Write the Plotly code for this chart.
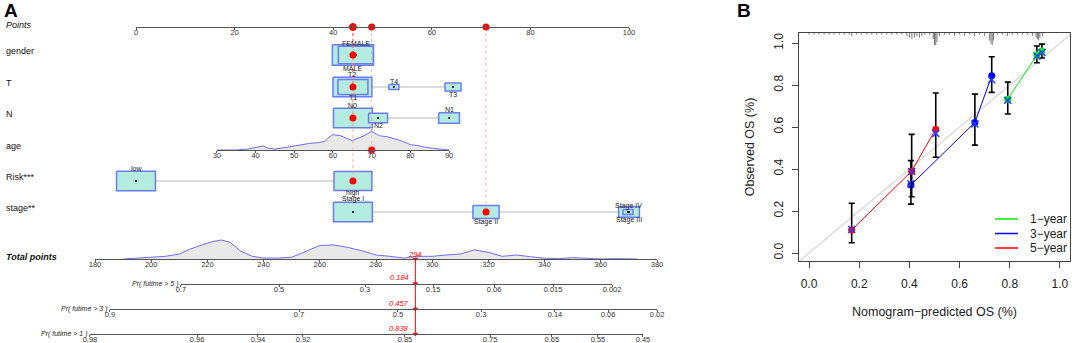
import plotly.graph_objects as go

# ======================= DATA =======================
# ---- Panel A : nomogram ----
points_ticks = [0, 20, 40, 60, 80, 100]

gender_levels = ["MALE", "FEMALE"]
gender_pts = [44.0, 44.6]
gender_share = [0.47, 0.34]

t_levels = ["T2", "T1", "T4", "T3"]
t_pts = [43.9, 44.0, 52.3, 64.3]
t_share = [0.42, 0.25, 0.028, 0.071]

n_levels = ["N0", "N2", "N1"]
n_pts = [44.0, 49.1, 63.5]
n_share = [0.42, 0.10, 0.12]

risk_levels = ["low", "high"]
risk_pts = [0.0, 44.0]
risk_share = [0.42, 0.40]

stage_levels = ["Stage I", "Stage II", "Stage III", "Stage IV"]
stage_pts = [44.0, 71.0, 100.0, 99.8]
stage_share = [0.42, 0.19, 0.12, 0.028]

age_ticks = [30, 40, 50, 60, 70, 80, 90]
age_pts_at_ends = [16.4, 63.5]          # points given to age 30 and age 90
age_grid = [30, 35, 38, 40, 42, 43, 45, 48, 50, 52, 54, 56, 58, 59, 60, 62, 64, 65,
            66, 68, 70, 71, 72, 74, 76, 78, 80, 82, 84, 86, 88, 90]
age_density = [0, 0, 0.05, 0.14, 0.21, 0.11, 0.05, 0.14, 0.21, 0.32, 0.35, 0.38, 0.46,
               0.67, 0.81, 0.75, 0.58, 0.49, 0.58, 0.75, 0.98, 0.88, 0.75, 0.70, 0.58,
               0.46, 0.28, 0.23, 0.14, 0.07, 0.04, 0]

total_ticks = [180, 200, 220, 240, 260, 280, 300, 320, 340, 360, 380]
total_grid = [190, 195, 200, 205, 210, 214, 218, 222, 225, 228, 232, 236, 240, 245, 250,
              255, 260, 265, 270, 275, 280, 285, 290, 294, 300, 305, 310, 315, 320, 325,
              330, 335, 340, 345, 350, 355, 360, 365, 370, 373]
total_density = [0, 0.04, 0.09, 0.14, 0.26, 0.53, 0.74, 0.92, 1.0, 0.88, 0.40, 0.14, 0.05,
                 0.05, 0.09, 0.40, 0.71, 0.74, 0.61, 0.43, 0.21, 0.14, 0.05, 0.14, 0.14,
                 0.21, 0.26, 0.48, 0.35, 0.14, 0.21, 0.12, 0.04, 0.02, 0.07, 0.04, 0,
                 0.02, 0.02, 0]

pr5_probs = [0.7, 0.5, 0.3, 0.15, 0.06, 0.015, 0.002]
pr5_total = [210.6, 245.5, 276.1, 300.3, 322.0, 343.0, 364.0]
pr3_probs = [0.9, 0.7, 0.5, 0.3, 0.14, 0.06, 0.02]
pr3_total = [185.3, 252.6, 287.8, 317.4, 343.7, 362.6, 380.0]
pr1_probs = [0.98, 0.96, 0.94, 0.92, 0.85, 0.75, 0.65, 0.55, 0.45]
pr1_total = [178.2, 216.3, 238.0, 254.0, 290.3, 320.6, 342.6, 359.0, 375.0]

patient_gender = "MALE"
patient_t = "T1"
patient_n = "N0"
patient_age = 70
patient_risk = "high"
patient_stage = "Stage II"
patient_total = 294
patient_pr = [0.184, 0.457, 0.838]      # 5-, 3-, 1-year

# ---- Panel B : calibration ----
cal_names = ["1−year", "3−year", "5−year"]
cal1_pred = [0.792, 0.908, 0.928]
cal1_obs = [0.732, 0.943, 0.962]
cal1_lo = [0.662, 0.906, 0.929]
cal1_hi = [0.814, 0.986, 0.995]
cal1_corr = [0.728, 0.938, 0.955]
cal3_pred = [0.406, 0.661, 0.728]
cal3_obs = [0.324, 0.622, 0.844]
cal3_lo = [0.233, 0.514, 0.765]
cal3_hi = [0.440, 0.757, 0.935]
cal3_corr = [0.330, 0.615, 0.825]
cal5_pred = [0.170, 0.409, 0.505]
cal5_obs = [0.110, 0.390, 0.590]
cal5_lo = [0.049, 0.268, 0.456]
cal5_hi = [0.237, 0.565, 0.762]
cal5_corr = [0.112, 0.388, 0.570]

rug_x = [0.00, 0.02, 0.04, 0.06, 0.08, 0.10, 0.12, 0.14, 0.16, 0.17, 0.19, 0.21, 0.23,
         0.25, 0.27, 0.29, 0.31, 0.33, 0.35, 0.37, 0.39, 0.40, 0.41, 0.42, 0.43, 0.44,
         0.45, 0.46, 0.48, 0.495, 0.50, 0.505, 0.51, 0.52, 0.54, 0.56, 0.58, 0.60, 0.62,
         0.64, 0.66, 0.68, 0.70, 0.72, 0.725, 0.73, 0.735, 0.75, 0.77, 0.79, 0.81, 0.83,
         0.85, 0.87, 0.89, 0.905, 0.91, 0.915, 0.92, 0.93]
rug_n = [1, 1, 1, 1, 1, 1, 1, 1, 1, 2, 1, 1, 1,
         1, 1, 1, 1, 1, 1, 1, 2, 3, 4, 3, 2, 3,
         2, 1, 1, 4, 8, 8, 6, 2, 1, 1, 2, 1, 2,
         1, 2, 1, 2, 5, 7, 8, 5, 1, 1, 2, 1, 1,
         1, 1, 2, 3, 4, 5, 3, 2]

# ======================= LAYOUT / STYLE =======================
FIG_W, FIG_H = 1072, 343
FONT = "Liberation Sans, Arial, Helvetica, sans-serif"
PX0, PX100 = 136, 629                      # pixel ends of the Points axis
PPT = (PX100 - PX0) / 100.0
TOT_PX = (95, 657)
TOT_RANGE = (total_ticks[0], total_ticks[-1])
ROW_Y = {"points": 27, "gender": 55, "T": 87, "N": 118, "age": 150, "risk": 181,
         "stage": 212, "total": 259, "pr5": 283.5, "pr3": 309, "pr1": 334}
LABEL_Y_SHIFT = -4
LEVEL_LABEL_GAP = 3
BOX_SCALE = 60.0                           # px width for share = 1 (sqrt scaling)
BOX_FILL = "rgb(180,236,224)"
BOX_LINE = "rgb(105,125,250)"
DENS_H = 19.0
LABEL_SIDE = {"gender": ["below", "above"], "T": ["above", "below", "above", "below"],
              "N": ["above", "below", "above"], "risk": ["above", "below"],
              "stage": ["above", "below", "below", "above"]}
SERIES_COLORS = ["#00ee00", "#0000ff", "#ff0000"]
LEGEND_Y = [219, 233.5, 248]
LEGEND_X = (995, 1018, 1028)


def px_pts(p):
    return PX0 + p * PPT


def px_tot(t):
    return TOT_PX[0] + (t - TOT_RANGE[0]) * (TOT_PX[1] - TOT_PX[0]) / (TOT_RANGE[1] - TOT_RANGE[0])


def fx(px):
    return px / FIG_W


def fy(py):
    return 1 - py / FIG_H


def age_to_pts(a):
    return age_pts_at_ends[0] + (a - age_ticks[0]) * (age_pts_at_ends[1] - age_pts_at_ends[0]) / (age_ticks[-1] - age_ticks[0])


fig = go.Figure()
annotations = []
shapes = []

# ---------- categorical rows ----------
rows = [("gender", gender_levels, gender_pts, gender_share, patient_gender),
        ("T", t_levels, t_pts, t_share, patient_t),
        ("N", n_levels, n_pts, n_share, patient_n),
        ("risk", risk_levels, risk_pts, risk_share, patient_risk),
        ("stage", stage_levels, stage_pts, stage_share, patient_stage)]

# connectors
for key, levels, pts, share, pat in rows:
    y0 = ROW_Y[key]
    fig.add_trace(go.Scatter(x=[min(pts), max(pts)], y=[y0, y0], mode="lines",
                             line=dict(color="#dcdcdc", width=2), xaxis="x", yaxis="y",
                             showlegend=False, hoverinfo="skip"))
# boxes
for key, levels, pts, share, pat in rows:
    y0 = ROW_Y[key]
    for i, (lv, p, s) in enumerate(zip(levels, pts, share)):
        wpx = BOX_SCALE * s ** 0.5
        hpx = wpx / 2
        w = wpx / PPT
        xs = [p - w / 2, p + w / 2, p + w / 2, p - w / 2, p - w / 2]
        ys = [y0 - hpx / 2, y0 - hpx / 2, y0 + hpx / 2, y0 + hpx / 2, y0 - hpx / 2]
        fig.add_trace(go.Scatter(x=xs, y=ys, mode="lines", fill="toself", fillcolor=BOX_FILL,
                                 line=dict(color=BOX_LINE, width=1.5), xaxis="x", yaxis="y",
                                 showlegend=False, hoverinfo="skip"))
        side = LABEL_SIDE[key][i]
        ly = y0 - hpx / 2 - LEVEL_LABEL_GAP if side == "above" else y0 + hpx / 2 + LEVEL_LABEL_GAP
        annotations.append(dict(x=p, y=ly, xref="x", yref="y", text=lv, showarrow=False,
                                font=dict(size=7, color="#222", family=FONT),
                                xanchor="center", yanchor="middle"))
    fig.add_trace(go.Scatter(x=pts, y=[y0] * len(pts), mode="markers",
                             marker=dict(color="black", size=2), xaxis="x", yaxis="y",
                             showlegend=False, hoverinfo="skip"))

# red dotted guide lines + patient dots
pat_pts = []
for key, levels, pts, share, pat in rows:
    p = pts[levels.index(pat)]
    pat_pts.append(p)
    fig.add_trace(go.Scatter(x=[p, p], y=[ROW_Y["points"], ROW_Y[key]], mode="lines",
                             line=dict(color="rgba(255,120,120,0.6)", width=1, dash="dot"),
                             xaxis="x", yaxis="y", showlegend=False, hoverinfo="skip"))
age_p = age_to_pts(patient_age)
fig.add_trace(go.Scatter(x=[age_p, age_p], y=[ROW_Y["points"], ROW_Y["age"]], mode="lines",
                         line=dict(color="rgba(255,120,120,0.6)", width=1, dash="dot"),
                         xaxis="x", yaxis="y", showlegend=False, hoverinfo="skip"))
fig.add_trace(go.Scatter(x=pat_pts, y=[ROW_Y[r[0]] for r in rows], mode="markers",
                         marker=dict(color="red", size=7), xaxis="x", yaxis="y",
                         showlegend=False, hoverinfo="skip"))

# points axis dots (x2)
fig.add_trace(go.Scatter(x=pat_pts + [age_p], y=[ROW_Y["points"]] * (len(pat_pts) + 1),
                         mode="markers", marker=dict(color="red", size=7), xaxis="x2",
                         yaxis="y", showlegend=False, hoverinfo="skip", cliponaxis=False))

# age density (x3)
ay = ROW_Y["age"]
fig.add_trace(go.Scatter(x=age_grid + [age_grid[-1], age_grid[0]],
                         y=[ay - d * DENS_H for d in age_density] + [ay, ay],
                         mode="lines", fill="toself", fillcolor="rgba(215,215,215,0.55)",
                         line=dict(width=0), xaxis="x3", yaxis="y", showlegend=False,
                         hoverinfo="skip"))
fig.add_trace(go.Scatter(x=age_grid, y=[ay - d * DENS_H for d in age_density], mode="lines",
                         line=dict(color="rgb(110,110,245)", width=1), xaxis="x3", yaxis="y",
                         showlegend=False, hoverinfo="skip"))
fig.add_trace(go.Scatter(x=[patient_age], y=[ay], mode="markers",
                         marker=dict(color="red", size=7), xaxis="x3", yaxis="y",
                         showlegend=False, hoverinfo="skip", cliponaxis=False))

# total points density (x4)
ty = ROW_Y["total"]
fig.add_trace(go.Scatter(x=total_grid + [total_grid[-1], total_grid[0]],
                         y=[ty - d * DENS_H for d in total_density] + [ty, ty],
                         mode="lines", fill="toself", fillcolor="rgba(215,215,215,0.55)",
                         line=dict(width=0), xaxis="x4", yaxis="y", showlegend=False,
                         hoverinfo="skip"))
fig.add_trace(go.Scatter(x=total_grid, y=[ty - d * DENS_H for d in total_density], mode="lines",
                         line=dict(color="rgb(110,110,245)", width=1), xaxis="x4", yaxis="y",
                         showlegend=False, hoverinfo="skip"))
fig.add_trace(go.Scatter(x=[patient_total, patient_total], y=[ROW_Y["total"], ROW_Y["pr1"]],
                         mode="lines", line=dict(color="red", width=1), xaxis="x4", yaxis="y",
                         showlegend=False, hoverinfo="skip", cliponaxis=False))
annotations.append(dict(x=patient_total, y=ROW_Y["total"] - 5, xref="x4", yref="y",
                        text="<i>%d</i>" % patient_total, showarrow=False,
                        font=dict(size=7.5, color="red", family=FONT), xanchor="center",
                        yanchor="middle"))

# probability axes markers (x5,x6,x7)
for ax, key, pr in [("x5", "pr5", patient_pr[0]), ("x6", "pr3", patient_pr[1]),
                    ("x7", "pr1", patient_pr[2])]:
    fig.add_trace(go.Scatter(x=[patient_total], y=[ROW_Y[key]], mode="markers",
                             marker=dict(color="red", size=5, symbol="triangle-down"),
                             xaxis=ax, yaxis="y", showlegend=False, hoverinfo="skip",
                             cliponaxis=False))
    annotations.append(dict(x=patient_total, y=ROW_Y[key] - 6, xref="x4", yref="y",
                            text="<i>%s</i>" % pr, showarrow=False,
                            font=dict(size=7.5, color="red", family=FONT), xanchor="right",
                            xshift=-4, yanchor="middle"))
fig.add_trace(go.Scatter(x=[patient_total], y=[ROW_Y["total"]], mode="markers",
                         marker=dict(color="red", size=5, symbol="triangle-down"),
                         xaxis="x4", yaxis="y", showlegend=False, hoverinfo="skip",
                         cliponaxis=False))

# row labels
row_labels = [("points", "<i>Points</i>"), ("gender", "gender"), ("T", "T"), ("N", "N"),
              ("age", "age"), ("risk", "Risk***"), ("stage", "stage**"),
              ("total", "<b><i>Total points</i></b>")]
for key, txt in row_labels:
    annotations.append(dict(x=fx(4), y=ROW_Y[key] + LABEL_Y_SHIFT + (2 if key in ("points", "total") else 0),
                            xref="paper", yref="y", text=txt, showarrow=False,
                            font=dict(size=9, color="#111", family=FONT), xanchor="left",
                            yanchor="middle"))
for key, txt, tot in [("pr5", "Pr( futime &gt; 5 )", pr5_total), ("pr3", "Pr( futime &gt; 3 )", pr3_total),
                      ("pr1", "Pr( futime &gt; 1 )", pr1_total)]:
    annotations.append(dict(x=fx(px_tot(tot[0]) - 1), y=ROW_Y[key], xref="paper", yref="y",
                            text="<i>%s</i>" % txt, showarrow=False,
                            font=dict(size=7, color="#222", family=FONT), xanchor="right",
                            yanchor="middle"))

annotations.append(dict(x=fx(2), y=fy(11), xref="paper", yref="paper", text="<b>A</b>",
                        showarrow=False, font=dict(size=19, color="black", family=FONT),
                        xanchor="left", yanchor="middle"))
annotations.append(dict(x=fx(735), y=fy(11), xref="paper", yref="paper", text="<b>B</b>",
                        showarrow=False, font=dict(size=19, color="black", family=FONT),
                        xanchor="left", yanchor="middle"))


def nomo_axis(px_a, px_b, rng, ypos, tickvals, ticktext=None):
    d = dict(domain=[fx(px_a), fx(px_b)], range=list(rng), anchor="free", position=fy(ypos),
             side="bottom", showline=True, linecolor="#555", linewidth=1, ticks="outside",
             ticklen=2, tickcolor="#555", tickvals=tickvals,
             tickfont=dict(size=7.5, color="#333", family=FONT), showgrid=False,
             zeroline=False, fixedrange=True, ticklabelstandoff=-4)
    if ticktext is not None:
        d["ticktext"] = ticktext
    return d


# ---------- Panel B ----------
YB0, YB1 = -0.038, 1.048
rx, ry = [], []
for x, n in zip(rug_x, rug_n):
    rx += [x, x, None]
    ry += [YB1, YB1 - n * 1.5 / 210.0, None]
fig.add_trace(go.Scatter(x=rx, y=ry, mode="lines", line=dict(color="#777", width=1),
                         xaxis="x8", yaxis="y2", showlegend=False, hoverinfo="skip"))
fig.add_trace(go.Scatter(x=[-0.05, 1.05], y=[-0.05, 1.05], mode="lines",
                         line=dict(color="#dddddd", width=1.5), xaxis="x8", yaxis="y2",
                         showlegend=False, hoverinfo="skip"))
series = [(cal_names[0], SERIES_COLORS[0], cal1_pred, cal1_obs, cal1_lo, cal1_hi, cal1_corr),
          (cal_names[1], SERIES_COLORS[1], cal3_pred, cal3_obs, cal3_lo, cal3_hi, cal3_corr),
          (cal_names[2], SERIES_COLORS[2], cal5_pred, cal5_obs, cal5_lo, cal5_hi, cal5_corr)]
for name, col, pr, ob, lo, hi, co in series:
    fig.add_trace(go.Scatter(x=pr, y=ob, mode="lines", line=dict(color=col, width=1),
                             name=name, xaxis="x8", yaxis="y2", showlegend=False))
for name, col, pr, ob, lo, hi, co in series:
    fig.add_trace(go.Scatter(x=pr, y=ob, mode="markers", marker=dict(color=col, size=7),
                             error_y=dict(type="data", symmetric=False,
                                          array=[h - o for h, o in zip(hi, ob)],
                                          arrayminus=[o - l for o, l in zip(ob, lo)],
                                          color="black", thickness=1.6, width=3),
                             xaxis="x8", yaxis="y2", showlegend=False, hoverinfo="skip"))
    fig.add_trace(go.Scatter(x=pr, y=co, mode="markers",
                             marker=dict(symbol="x-thin", size=7, line=dict(color="#2040ff", width=1.5)),
                             xaxis="x8", yaxis="y2", showlegend=False, hoverinfo="skip"))

# legend (drawn as keyed lines + labels)
for name, col, ly in zip(cal_names, SERIES_COLORS, LEGEND_Y):
    shapes.append(dict(type="line", xref="paper", yref="paper", x0=fx(LEGEND_X[0]),
                       x1=fx(LEGEND_X[1]), y0=fy(ly), y1=fy(ly),
                       line=dict(color=col, width=1.5)))
    annotations.append(dict(x=fx(LEGEND_X[2]), y=fy(ly), xref="paper", yref="paper", text=name,
                            showarrow=False, font=dict(size=12, color="#222", family=FONT),
                            xanchor="left", yanchor="middle"))

fig.update_layout(
    width=FIG_W, height=FIG_H, margin=dict(l=0, r=0, t=0, b=0, autoexpand=False),
    paper_bgcolor="white", plot_bgcolor="rgba(0,0,0,0)",
    font=dict(family=FONT, color="#222"),
    xaxis=dict(domain=[0, 1], range=[(0 - PX0) / PPT, (FIG_W - PX0) / PPT], visible=False,
               fixedrange=True),
    yaxis=dict(domain=[0, 1], range=[FIG_H, 0], visible=False, fixedrange=True, anchor="x"),
    xaxis2=nomo_axis(PX0, PX100, (0, 100), ROW_Y["points"], points_ticks),
    xaxis3=nomo_axis(px_pts(age_pts_at_ends[0]), px_pts(age_pts_at_ends[1]),
                     (age_ticks[0], age_ticks[-1]), ROW_Y["age"], age_ticks),
    xaxis4=nomo_axis(TOT_PX[0], TOT_PX[1], TOT_RANGE, ROW_Y["total"], total_ticks),
    xaxis5=nomo_axis(px_tot(pr5_total[0]), px_tot(pr5_total[-1]), (pr5_total[0], pr5_total[-1]),
                     ROW_Y["pr5"], pr5_total, ["%g" % p for p in pr5_probs]),
    xaxis6=nomo_axis(px_tot(pr3_total[0]), px_tot(pr3_total[-1]), (pr3_total[0], pr3_total[-1]),
                     ROW_Y["pr3"], pr3_total, ["%g" % p for p in pr3_probs]),
    xaxis7=nomo_axis(px_tot(pr1_total[0]), px_tot(pr1_total[-1]), (pr1_total[0], pr1_total[-1]),
                     ROW_Y["pr1"], pr1_total, ["%g" % p for p in pr1_probs]),
    xaxis8=dict(domain=[fx(799), fx(1070)], range=[-0.04, 1.04], anchor="y2",
                showline=True, mirror=True, linecolor="#444", linewidth=1, ticks="outside",
                ticklen=6, tickcolor="#444", tickvals=[0, 0.2, 0.4, 0.6, 0.8, 1.0],
                tickformat=".1f", tickfont=dict(size=12, color="#222", family=FONT),
                ticklabelstandoff=6, showgrid=False, zeroline=False, fixedrange=True,
                title=dict(text="Nomogram−predicted OS (%)", font=dict(size=12.5, color="#222"),
                           standoff=16)),
    yaxis2=dict(domain=[fy(261), fy(33)], range=[YB0, YB1], anchor="x8",
                showline=True, mirror=True, linecolor="#444", linewidth=1, ticks="outside",
                ticklen=6, tickcolor="#444", tickvals=[0, 0.2, 0.4, 0.6, 0.8, 1.0],
                tickformat=".1f", tickangle=-90, tickfont=dict(size=12, color="#222", family=FONT),
                ticklabelstandoff=4, showgrid=False, zeroline=False, fixedrange=True,
                title=dict(text="Observed OS (%)", font=dict(size=12.5, color="#222"),
                           standoff=14)),
    showlegend=False,
    annotations=annotations,
    shapes=shapes,
)

fig.write_html("out.html", config={"displayModeBar": False, "staticPlot": True},
               post_script="document.body.style.margin='0px';")
